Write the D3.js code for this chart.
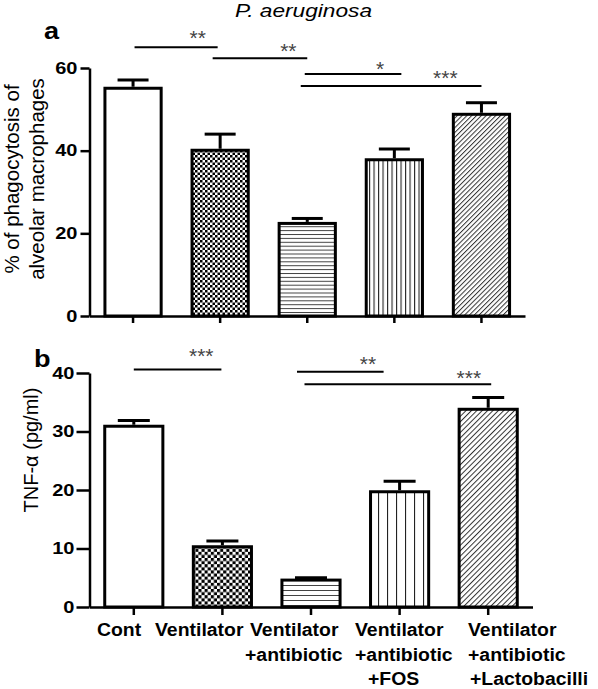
<!DOCTYPE html>
<html>
<head>
<meta charset="utf-8">
<script src="https://cdn.jsdelivr.net/npm/d3@7"></script>
<style>
  html, body { margin: 0; padding: 0; background: #fff; }
  svg { display: block; }
  text { font-family: "Liberation Sans", Arial, Helvetica, sans-serif; }
</style>
</head>
<body>
<svg id="chart" width="598" height="689"></svg>
<script>
// ---------------- DATA ----------------
const categories = ["Cont", "Ventilator", "Ventilator +antibiotic", "Ventilator +antibiotic +FOS", "Ventilator +antibiotic +Lactobacilli"];
const categoryLabelLines = [
  ["Cont"],
  ["Ventilator"],
  ["Ventilator", "+antibiotic"],
  ["Ventilator", "+antibiotic", "+FOS"],
  ["Ventilator", "+antibiotic", "+Lactobacilli"]
];
const phagocytosis = [55.1, 40.1, 22.4, 37.8, 48.8];
const phagocytosisSEM = [2.0, 3.9, 1.2, 2.6, 2.8];
const tnfAlpha = [30.9, 10.3, 4.6, 19.7, 33.8];
const tnfAlphaSEM = [1.0, 1.0, 0.4, 1.8, 2.0];
const ticksA = [0, 20, 40, 60];
const ticksB = [0, 10, 20, 30, 40];
const sigA = [
  { from: 0, to: 1, label: "**", level: 65.0 },
  { from: 1, to: 2, label: "**", level: 62.35 },
  { from: 2, to: 3, label: "*", level: 58.55 },
  { from: 2, to: 4, label: "***", level: 55.65 }
];
const sigB = [
  { from: 0, to: 1, label: "***", level: 40.6 },
  { from: 2, to: 3, label: "**", level: 40.2 },
  { from: 2, to: 4, label: "***", level: 38.07 }
];
const titleText = "P. aeruginosa";
const yLabelA = ["% of phagocytosis of", "alveolar macrophages"];
const yLabelB = "TNF-\u03b1 (pg/ml)";

// ---------------- LAYOUT ----------------
const FONT = '"Liberation Sans", Arial, Helvetica, sans-serif';
const svg = d3.select("#chart");
const defs = svg.append("defs");

const sigLayoutA = [
  { dx1: 1.5, dx2: -2.5, t: 0.76, up: 15 },
  { dx1: -7.5, dx2: 0, t: 0.80, up: 12.5 },
  { dx1: -2.5, dx2: 7, t: 0.78, up: 10 },
  { dx1: -6.5, dx2: 0, t: 0.80, up: 13.5 }
];
const sigLayoutB = [
  { dx1: 0, dx2: -1, t: 0.77, up: 18.5 },
  { dx1: -14, dx2: -16, t: 0.82, up: 12.7 },
  { dx1: -6.5, dx2: 3, t: 0.88, up: 11.5 }
];
const labelOffsets = [[-36.8], [-67.4], [-61, -66], [-44.6, -44.6, -31.6], [-20.2, -20.2, -18.2]];

function makePatterns(suffix, scale) {
  const c = scale.check;
  const pc = defs.append("pattern").attr("id", "check" + suffix)
    .attr("patternUnits", "userSpaceOnUse").attr("width", c).attr("height", c);
  pc.append("rect").attr("width", c).attr("height", c).attr("fill", "#fff");
  pc.append("rect").attr("width", c / 2).attr("height", c / 2).attr("fill", "#000");
  pc.append("rect").attr("x", c / 2).attr("y", c / 2).attr("width", c / 2).attr("height", c / 2).attr("fill", "#000");
  const h = scale.hline;
  const ph = defs.append("pattern").attr("id", "hline" + suffix)
    .attr("patternUnits", "userSpaceOnUse").attr("width", 10).attr("height", h);
  ph.append("rect").attr("width", 10).attr("height", h).attr("fill", "#fff");
  ph.append("rect").attr("y", 0).attr("width", 10).attr("height", 1).attr("fill", "#444");
  const v = scale.vline;
  const pv = defs.append("pattern").attr("id", "vline" + suffix)
    .attr("patternUnits", "userSpaceOnUse").attr("width", v).attr("height", 10);
  pv.append("rect").attr("width", v).attr("height", 10).attr("fill", "#fff");
  pv.append("rect").attr("x", 0).attr("width", 1.1).attr("height", 10).attr("fill", "#222");
  const d = scale.diag;
  const pd = defs.append("pattern").attr("id", "diag" + suffix)
    .attr("patternUnits", "userSpaceOnUse").attr("width", d).attr("height", 10)
    .attr("patternTransform", "rotate(45)");
  pd.append("rect").attr("width", d).attr("height", 10).attr("fill", "#fff");
  pd.append("rect").attr("x", 0).attr("width", 1).attr("height", 10).attr("fill", "#333");
}
makePatterns("A", { check: 5, hline: 3.9, vline: 4.5, diag: 3.4 });
makePatterns("B", { check: 6.2, hline: 5, vline: 9, diag: 3.8 });
const fillKinds = [null, "check", "hline", "vline", "diag"];

function stretchText(parent, x, y, txt, size, sx, opts = {}) {
  return parent.append("text")
    .attr("transform", `translate(${x},${y}) scale(${sx},1)`)
    .attr("text-anchor", opts.anchor || "start")
    .attr("font-size", size)
    .attr("font-weight", opts.weight || "normal")
    .attr("font-style", opts.style || "normal")
    .attr("fill", opts.fill || "#000")
    .attr("letter-spacing", opts.ls || 0)
    .text(txt);
}

function drawPanel(cfg) {
  const g = svg.append("g");
  const x = d3.scaleBand().domain(categories).range(cfg.xRange)
    .paddingInner(cfg.padIn).paddingOuter(cfg.padIn / 2);
  const y = d3.scaleLinear().domain([0, d3.max(cfg.ticks)]).range(cfg.yRange);

  const sw = 3;
  g.selectAll("rect.bar").data(cfg.values).join("rect")
    .attr("class", "bar")
    .attr("x", (d, i) => x(categories[i]) + sw / 2)
    .attr("width", x.bandwidth() - sw)
    .attr("y", d => y(d))
    .attr("height", d => y(0) - y(d))
    .attr("fill", (d, i) => fillKinds[i] ? `url(#${fillKinds[i]}${cfg.suffix})` : "#fff")
    .attr("stroke", "#000").attr("stroke-width", sw);

  const cx = i => x(categories[i]) + x.bandwidth() / 2;
  const eb = g.selectAll("g.err").data(cfg.values).join("g").attr("class", "err");
  eb.append("line")
    .attr("x1", (d, i) => cx(i)).attr("x2", (d, i) => cx(i))
    .attr("y1", d => y(d) - sw / 2)
    .attr("y2", (d, i) => y(d + cfg.errors[i]))
    .attr("stroke", "#000").attr("stroke-width", 3);
  eb.append("line")
    .attr("x1", (d, i) => cx(i) - cfg.cap / 2).attr("x2", (d, i) => cx(i) + cfg.cap / 2)
    .attr("y1", (d, i) => y(d + cfg.errors[i])).attr("y2", (d, i) => y(d + cfg.errors[i]))
    .attr("stroke", "#000").attr("stroke-width", 3);

  const ya = g.append("g").attr("transform", `translate(${cfg.xRange[0]},0)`)
    .call(d3.axisLeft(y).tickValues(cfg.ticks).tickSize(cfg.yTick).tickPadding(cfg.yPad).tickSizeOuter(0));
  ya.select(".domain").attr("stroke", "#000").attr("stroke-width", 2.5);
  ya.selectAll(".tick line").attr("stroke", "#000").attr("stroke-width", 2.5);
  ya.selectAll(".tick text").each(function () {
    const t = d3.select(this);
    const xx = +t.attr("x");
    t.attr("x", 0).attr("transform", `translate(${xx},0) scale(1.25,1)`);
  }).attr("font-family", FONT).attr("font-size", 16).attr("font-weight", "bold").attr("fill", "#000");

  const xa = g.append("g").attr("transform", `translate(0,${cfg.yRange[0]})`)
    .call(d3.axisBottom(x).tickSize(cfg.xTick).tickSizeOuter(0).tickFormat(""));
  xa.select(".domain").attr("stroke", "#000").attr("stroke-width", 2.5);
  xa.selectAll(".tick line").attr("stroke", "#000").attr("stroke-width", 2.5);

  cfg.sig.forEach((s, k) => {
    const L = cfg.sigLayout[k];
    const x1 = cx(s.from) + L.dx1, x2 = cx(s.to) + L.dx2;
    const yy = y(s.level);
    g.append("line").attr("x1", x1).attr("x2", x2).attr("y1", yy).attr("y2", yy)
      .attr("stroke", "#000").attr("stroke-width", 2);
    const sx = x1 + (x2 - x1) * L.t;
    const starSize = 21;
    stretchText(g, sx, yy - L.up + starSize * 0.58, s.label, starSize, 1, { anchor: "middle", fill: "#444", ls: 0 });
  });

  stretchText(g, cfg.letterPos[0], cfg.letterPos[1], cfg.letter, 23, 1.18, { weight: "bold" });
  return { x, y, cx };
}

const A = drawPanel({
  suffix: "A", values: phagocytosis, errors: phagocytosisSEM, ticks: ticksA, sig: sigA, sigLayout: sigLayoutA,
  xRange: [89.5, 525], yRange: [316, 68], padIn: 0.32, cap: 31, yTick: 9, yPad: 3, xTick: 7,
  letter: "a", letterPos: [44, 38.5]
});
const B = drawPanel({
  suffix: "B", values: tnfAlpha, errors: tnfAlphaSEM, ticks: ticksB, sig: sigB, sigLayout: sigLayoutB,
  xRange: [89.5, 532.5], yRange: [607, 373], padIn: 0.31, cap: 32, yTick: 13, yPad: 2, xTick: 8,
  letter: "b", letterPos: [34, 367]
});

stretchText(svg, 235, 16.7, titleText, 18, 1.26, { style: "italic" });

yLabelA.forEach((line, i) => {
  svg.append("text")
    .attr("transform", `translate(${18.6 + i * 25},179) rotate(-90)`)
    .attr("text-anchor", "middle").attr("font-size", 20.5).attr("fill", "#000")
    .text(line);
});
svg.append("text")
  .attr("transform", `translate(37.5,450) rotate(-90)`)
  .attr("text-anchor", "middle").attr("font-size", 20).attr("fill", "#000")
  .text(yLabelB);

const baselines = [636, 660.5, 684.5];
categoryLabelLines.forEach((lines, i) => {
  lines.forEach((ln, j) => {
    stretchText(svg, B.cx(i) + labelOffsets[i][j], baselines[j], ln, 18.5, 1.05, { weight: "bold" });
  });
});
</script>
</body>
</html>
